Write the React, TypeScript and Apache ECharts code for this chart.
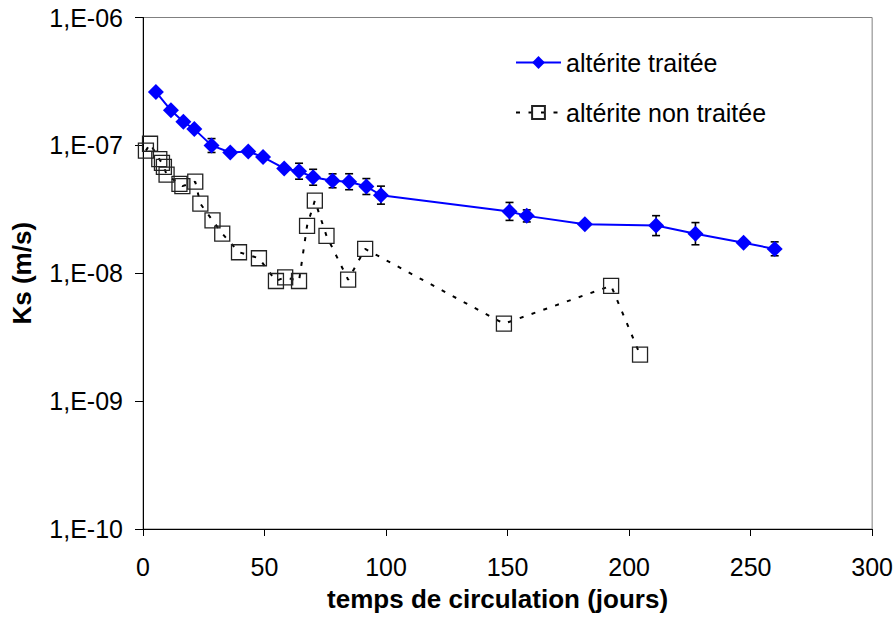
import React, { useEffect, useRef } from "react";
import * as echarts from "echarts";

// altérite traitée (days, Ks m/s)
const treatedDays = [5.3, 11.5, 16.6, 21.1, 28.2, 35.9, 43.3, 49.4, 58.1, 64.2, 70.0, 78.0, 84.8, 91.9, 97.9, 150.8, 157.9, 181.8, 211.1, 227.3, 247.1, 259.9];
const treatedKs = [2.62e-7, 1.88e-7, 1.53e-7, 1.34e-7, 1.0e-7, 8.8e-8, 8.95e-8, 8.1e-8, 6.6e-8, 6.28e-8, 5.64e-8, 5.28e-8, 5.19e-8, 4.77e-8, 4.08e-8, 3.04e-8, 2.81e-8, 2.42e-8, 2.36e-8, 2.04e-8, 1.73e-8, 1.55e-8];

// error bars of altérite traitée
const errDays = [28.2, 64.2, 70.0, 78.0, 84.8, 91.9, 97.9, 150.8, 157.9, 211.1, 227.3, 259.9];
const errLow = [8.8e-8, 5.44e-8, 4.88e-8, 4.66e-8, 4.5e-8, 4.13e-8, 3.47e-8, 2.59e-8, 2.52e-8, 1.97e-8, 1.67e-8, 1.37e-8];
const errHigh = [1.13e-7, 7.25e-8, 6.5e-8, 5.99e-8, 6.0e-8, 5.5e-8, 4.8e-8, 3.58e-8, 3.13e-8, 2.82e-8, 2.49e-8, 1.76e-8];

// altérite non traitée
const untreatedDays = [1.2, 2.9, 6.7, 7.8, 8.6, 9.7, 15.0, 16.2, 21.5, 23.6, 28.6, 32.6, 39.5, 47.7, 54.7, 58.5, 64.2, 67.5, 70.7, 75.5, 84.4, 91.4, 148.5, 192.6, 204.5];
const untreatedKs = [9.1e-8, 1.03e-7, 7.8e-8, 7.3e-8, 6.8e-8, 5.9e-8, 5.0e-8, 4.8e-8, 5.2e-8, 3.5e-8, 2.59e-8, 2.04e-8, 1.46e-8, 1.31e-8, 8.7e-9, 9.3e-9, 8.7e-9, 2.35e-8, 3.7e-8, 1.96e-8, 8.9e-9, 1.55e-8, 4.03e-9, 7.98e-9, 2.31e-9];

const seriesNames = ["altérite traitée", "altérite non traitée"];
const xMin = 0;
const xMax = 300;
const xInterval = 50;
const yMin = 1e-10;
const yMax = 1e-6;
const xTitle = "temps de circulation (jours)";
const yTitle = "Ks (m/s)";

const FONT = "Arial, 'Liberation Sans', sans-serif";

export default function App() {
  const ref = useRef<HTMLDivElement>(null);
  useEffect(() => {
    if (!ref.current) return;
    const chart = echarts.init(ref.current, undefined, { renderer: "svg" });
    const option: any = {
      animation: false,
      backgroundColor: "#fff",
      textStyle: { fontFamily: FONT },
      grid: {
        left: 143,
        right: 23,
        top: 17.5,
        bottom: 87,
        show: true,
        borderColor: "#808080",
        borderWidth: 1,
        backgroundColor: "transparent",
      },
      legend: {
        data: seriesNames,
        orient: "vertical",
        left: 510,
        top: 45,
        itemWidth: 45,
        itemHeight: 16,
        itemGap: 25,
        textStyle: { fontSize: 25, color: "#000", fontFamily: FONT },
      },
      xAxis: {
        type: "value",
        min: xMin,
        max: xMax,
        interval: xInterval,
        name: xTitle,
        nameLocation: "middle",
        nameGap: 57,
        nameTextStyle: { fontSize: 26, fontWeight: "bold", color: "#000", fontFamily: FONT, padding: [0, 20, 0, 0] },
        axisLine: { show: true, lineStyle: { color: "#000", width: 1 } },
        axisTick: { show: true, length: 7, lineStyle: { color: "#000" } },
        axisLabel: { fontSize: 25, color: "#000", margin: 25, fontFamily: FONT },
        splitLine: { show: false },
      },
      yAxis: {
        type: "log",
        logBase: 10,
        min: yMin,
        max: yMax,
        name: yTitle,
        nameLocation: "middle",
        nameGap: 108,
        nameTextStyle: { fontSize: 26, fontWeight: "bold", color: "#000", fontFamily: FONT },
        axisLine: { show: true, lineStyle: { color: "#000", width: 1 } },
        axisTick: { show: true, length: 8, lineStyle: { color: "#000" } },
        axisLabel: {
          fontSize: 25,
          color: "#000",
          margin: 20,
          fontFamily: FONT,
          formatter: (v: number) => {
            const e = Math.round(Math.log10(v));
            return "1,E-" + String(-e).padStart(2, "0");
          },
        },
        splitLine: { show: false },
        minorTick: { show: false },
      },
      series: [
        {
          type: "custom",
          name: "err",
          z: 1,
          data: errDays.map((d, i) => [d, errLow[i], errHigh[i]]),
          encode: { x: 0, y: [1, 2] },
          renderItem: (params: any, api: any) => {
            const x = api.value(0);
            const lo = api.coord([x, api.value(1)]);
            const hi = api.coord([x, api.value(2)]);
            const w = 4;
            const style = { stroke: "#000", lineWidth: 1.6 };
            return {
              type: "group",
              children: [
                { type: "line", shape: { x1: lo[0], y1: lo[1], x2: hi[0], y2: hi[1] }, style },
                { type: "line", shape: { x1: lo[0] - w, y1: lo[1], x2: lo[0] + w, y2: lo[1] }, style },
                { type: "line", shape: { x1: hi[0] - w, y1: hi[1], x2: hi[0] + w, y2: hi[1] }, style },
              ],
            };
          },
        },
        {
          type: "line",
          name: seriesNames[0],
          z: 3,
          data: treatedDays.map((d, i) => [d, treatedKs[i]]),
          symbol: "diamond",
          symbolSize: 16,
          itemStyle: { color: "#0000FF" },
          lineStyle: { color: "#0000FF", width: 2 },
        },
        {
          type: "line",
          name: seriesNames[1],
          z: 2,
          data: untreatedDays.map((d, i) => [d, untreatedKs[i]]),
          symbol: "rect",
          symbolSize: 15,
          itemStyle: { color: "rgba(0,0,0,0)", borderColor: "#222", borderWidth: 1.3 },
          lineStyle: { color: "#000", width: 2, type: [4, 8.5] },
        },
      ],
    };
    chart.setOption(option);
    return () => chart.dispose();
  }, []);
  return (
    <div
      ref={ref}
      style={{ position: "fixed", left: 0, top: 0, width: 896, height: 617, background: "#fff" }}
    />
  );
}
